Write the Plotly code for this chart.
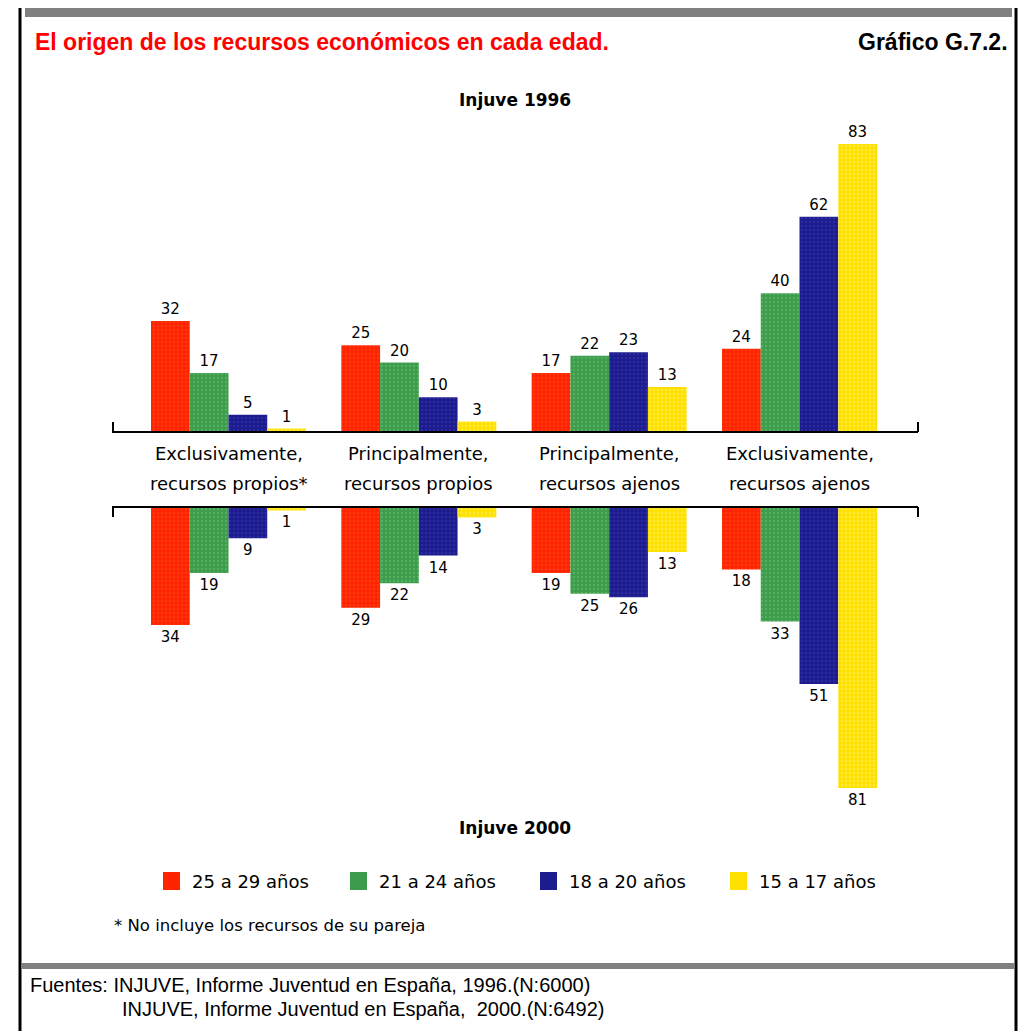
import plotly.graph_objects as go

# ---------------- data ----------------
categories_line1 = ["Exclusivamente,", "Principalmente,", "Principalmente,", "Exclusivamente,"]
categories_line2 = ["recursos propios*", "recursos propios", "recursos ajenos", "recursos ajenos"]
series_names = ["25 a 29 años", "21 a 24 años", "18 a 20 años", "15 a 17 años"]

# Injuve 1996 (upper panel)
v1996_25_29 = [32, 25, 17, 24]
v1996_21_24 = [17, 20, 22, 40]
v1996_18_20 = [5, 10, 23, 62]
v1996_15_17 = [1, 3, 13, 83]

# Injuve 2000 (lower panel)
v2000_25_29 = [34, 29, 19, 18]
v2000_21_24 = [19, 22, 25, 33]
v2000_18_20 = [9, 14, 26, 51]
v2000_15_17 = [1, 3, 13, 81]

series_1996 = [v1996_25_29, v1996_21_24, v1996_18_20, v1996_15_17]
series_2000 = [v2000_25_29, v2000_21_24, v2000_18_20, v2000_15_17]

colors = ["#FF2400", "#3C9C4C", "#1C1C8E", "#FFE000"]
dot_colors = ["#FF4A20", "#6CC470", "#3A3AB0", "#FFF27A"]

title_text = "El origen de los recursos económicos en cada edad."
chart_id = "Gráfico G.7.2."
panel_top = "Injuve 1996"
panel_bottom = "Injuve 2000"
footnote = "* No incluye los recursos de su pareja"
sources = ["Fuentes: INJUVE, Informe Juventud en España, 1996.(N:6000)",
           "INJUVE, Informe Juventud en España,  2000.(N:6492)"]

# ---------------- geometry helpers ----------------
W, H = 1035, 1031
OFF = 8  # default page margin of the html body


def px(x):
    return (x - OFF) / W


def py(y):
    return 1 - (y - OFF) / H


PX_PER_UNIT = 3.47
TOP_BASE, TOP_LIM = 432, 100
BOT_BASE, BOT_LIM = 507, 850
AX_L, AX_R = 112, 918
G0, G3 = 228.5, 799.5
unit = (G3 - G0) / 3.0
x_range = [(AX_L - G0) / unit, 3 + (AX_R - G3) / unit]

fig = go.Figure()
xs = list(range(len(categories_line1)))
wide = "DejaVu Sans, Verdana, sans-serif"
label_font = dict(family=wide, size=15, color="black")

for i, name in enumerate(series_names):
    marker = dict(color=colors[i], line=dict(width=0),
                  pattern=dict(shape=".", size=4, solidity=0.3,
                               fgcolor=dot_colors[i], fillmode="overlay"))
    fig.add_trace(go.Bar(x=xs, y=series_1996[i], xaxis="x", yaxis="y", name=name,
                         marker=marker, text=[str(v) for v in series_1996[i]],
                         textposition="outside", textfont=label_font,
                         cliponaxis=False, showlegend=False, hoverinfo="skip"))
    fig.add_trace(go.Bar(x=xs, y=[-v for v in series_2000[i]], xaxis="x2", yaxis="y2",
                         name=name, marker=marker,
                         text=[str(v) for v in series_2000[i]],
                         textposition="outside", textfont=label_font,
                         cliponaxis=False, showlegend=False, hoverinfo="skip"))

shapes = []
# outer frame
shapes.append(dict(type="rect", xref="paper", yref="paper", x0=px(20), x1=px(1016),
                   y0=-0.02, y1=py(3), line=dict(color="black", width=3)))
# grey bars
shapes.append(dict(type="rect", xref="paper", yref="paper", x0=px(25), x1=px(1012),
                   y0=py(17), y1=py(7), fillcolor="#808080", line=dict(width=0)))
shapes.append(dict(type="rect", xref="paper", yref="paper", x0=px(21), x1=px(1015),
                   y0=py(969), y1=py(963), fillcolor="#808080", line=dict(width=0)))
# axis lines with end ticks
for yb, d in ((TOP_BASE, -10), (BOT_BASE, 10)):
    shapes.append(dict(type="line", xref="paper", yref="paper", x0=px(AX_L), x1=px(AX_R),
                       y0=py(yb), y1=py(yb), line=dict(color="black", width=2)))
    for xx in (AX_L + 1, AX_R):
        shapes.append(dict(type="line", xref="paper", yref="paper", x0=px(xx), x1=px(xx),
                           y0=py(yb), y1=py(yb + d), line=dict(color="black", width=2)))

annotations = []
narrow = "Liberation Sans Narrow, Arial Narrow, Liberation Sans, Arial"
annotations.append(dict(text="<b>" + title_text + "</b>", x=px(33), y=py(42), xref="paper",
                        yref="paper", xanchor="left", yanchor="middle", showarrow=False,
                        font=dict(family=narrow, size=23, color="#FF0000")))
annotations.append(dict(text="<b>" + chart_id + "</b>", x=px(1010), y=py(42), xref="paper",
                        yref="paper", xanchor="right", yanchor="middle", showarrow=False,
                        font=dict(family=narrow, size=23, color="black")))
for t, yy in ((panel_top, 100), (panel_bottom, 828)):
    annotations.append(dict(text="<b>" + t + "</b>", x=px(515), y=py(yy), xref="paper",
                            yref="paper", xanchor="center", yanchor="middle", showarrow=False,
                            font=dict(family=wide, size=17, color="black")))
for i in xs:
    annotations.append(dict(text=categories_line1[i], x=i, y=py(453), xref="x", yref="paper",
                            xanchor="center", yanchor="middle", showarrow=False,
                            font=dict(family=wide, size=18, color="black")))
    annotations.append(dict(text=categories_line2[i], x=i, y=py(483), xref="x", yref="paper",
                            xanchor="center", yanchor="middle", showarrow=False,
                            font=dict(family=wide, size=18, color="black")))

# manual legend
leg_sq_x = [163, 350, 540, 730]
for i, name in enumerate(series_names):
    x0 = leg_sq_x[i]
    shapes.append(dict(type="rect", xref="paper", yref="paper", x0=px(x0), x1=px(x0 + 17),
                       y0=py(890), y1=py(872), fillcolor=colors[i], line=dict(width=0)))
    annotations.append(dict(text=name, x=px(x0 + 27), y=py(881), xref="paper", yref="paper",
                            xanchor="left", yanchor="middle", showarrow=False,
                            font=dict(family=wide, size=18, color="black")))

annotations.append(dict(text=footnote, x=px(112), y=py(925), xref="paper", yref="paper",
                        xanchor="left", yanchor="middle", showarrow=False,
                        font=dict(family=wide, size=16.5, color="black")))
annotations.append(dict(text=sources[0], x=px(28), y=py(985), xref="paper", yref="paper",
                        xanchor="left", yanchor="middle", showarrow=False,
                        font=dict(family="Liberation Sans, Arial", size=20, color="black")))
annotations.append(dict(text=sources[1], x=px(120), y=py(1009), xref="paper", yref="paper",
                        xanchor="left", yanchor="middle", showarrow=False,
                        font=dict(family="Liberation Sans, Arial", size=20, color="black")))

fig.update_layout(
    width=W, height=H, margin=dict(l=0, r=0, t=0, b=0),
    paper_bgcolor="white", plot_bgcolor="rgba(0,0,0,0)",
    barmode="group", bargap=1 - 155 / unit, bargroupgap=0,
    showlegend=False,
    xaxis=dict(domain=[px(AX_L), px(AX_R)], range=x_range, visible=False, anchor="y"),
    xaxis2=dict(domain=[px(AX_L), px(AX_R)], range=x_range, visible=False, anchor="y2",
                matches="x"),
    yaxis=dict(domain=[py(TOP_BASE), py(TOP_LIM)],
               range=[0, (TOP_BASE - TOP_LIM) / PX_PER_UNIT], visible=False),
    yaxis2=dict(domain=[py(BOT_LIM), py(BOT_BASE)],
                range=[-(BOT_LIM - BOT_BASE) / PX_PER_UNIT, 0], visible=False),
    shapes=shapes, annotations=annotations,
)

fig.write_html("out.html")
